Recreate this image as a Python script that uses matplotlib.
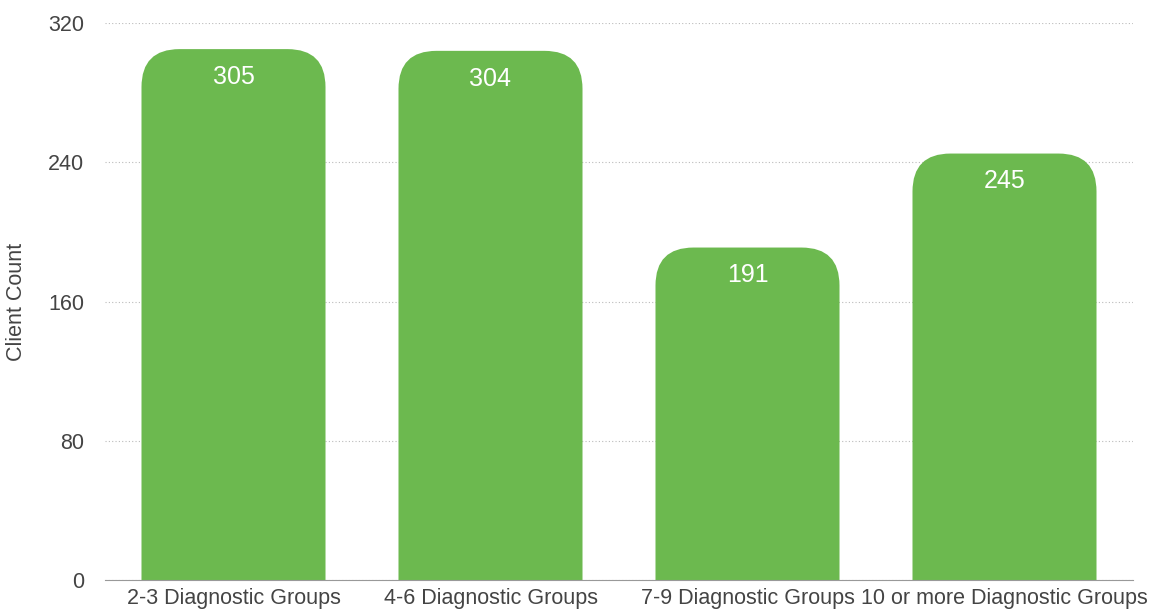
import numpy as np
from matplotlib import pyplot as plt
from matplotlib.path import Path
from matplotlib.patches import PathPatch

#Data
categories = ['2-3 Diagnostic Groups', '4-6 Diagnostic Groups',
              '7-9 Diagnostic Groups', '10 or more Diagnostic Groups']
client_count = [305, 304, 191, 245]
yticks = [0, 80, 160, 240, 320]

green = '#6cb94f'
plt.rcParams['font.family'] = ['Liberation Sans', 'DejaVu Sans']

fig = plt.figure(figsize=(11.51, 6.14), dpi=100)
ax = fig.add_axes([105/1151, 34/614, 1028/1151, 557/614])

x = np.arange(len(categories))
bars = ax.bar(x, client_count, width=0.716, color=green, alpha=0)

ax.set_xlim(-0.5, 3.5)
ax.set_ylim(0, 320)

#Rounded top corners, radius ~38 px converted to data units
rx = 38 / 257
ry = 38 / (557 / 320)
for b in bars:
    x0, w, h = b.get_x(), b.get_width(), b.get_height()
    x1 = x0 + w
    verts = [(x0, 0), (x0, h - ry), (x0, h), (x0 + rx, h),
             (x1 - rx, h), (x1, h), (x1, h - ry), (x1, 0), (x0, 0)]
    codes = [Path.MOVETO, Path.LINETO, Path.CURVE3, Path.CURVE3,
             Path.LINETO, Path.CURVE3, Path.CURVE3, Path.LINETO, Path.CLOSEPOLY]
    ax.add_patch(PathPatch(Path(verts, codes), facecolor=green, edgecolor='none', zorder=2))
    ax.text(x0 + w / 2, h - 16, str(int(h)), ha='center', va='center',
            color='white', fontsize=18, zorder=3)

ax.set_yticks(yticks)
ax.set_xticks(x)
ax.set_xticklabels(categories)
ax.yaxis.grid(True, linestyle=(0, (1, 2)), color='#bbbbbb', linewidth=0.8, zorder=0)
ax.set_axisbelow(True)
for s in ['top', 'right', 'left']:
    ax.spines[s].set_visible(False)
ax.spines['bottom'].set_color('#999999')
ax.tick_params(axis='both', length=0, labelsize=15.5, labelcolor='#444444')
ax.tick_params(axis='y', pad=15)
ax.tick_params(axis='x', pad=6)
ax.set_ylabel('Client Count', fontsize=15.5, color='#444444')
ax.yaxis.set_label_coords(-0.0759, 0.5)

plt.savefig('out.png', dpi=100)
